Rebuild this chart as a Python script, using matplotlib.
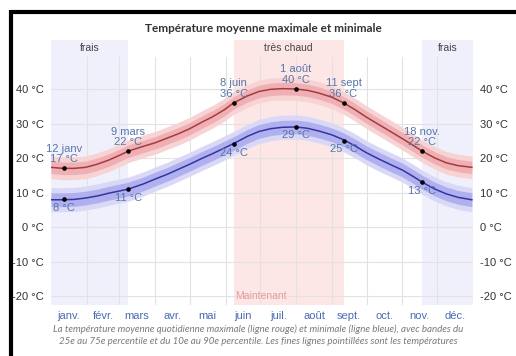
import matplotlib
matplotlib.use("Agg")
import matplotlib.pyplot as plt
from matplotlib.lines import Line2D
import numpy as np

# Day of year (0 = 1 January) for each sampled point of the curves
days = [0, 10, 20, 30, 40, 50, 60, 67, 80, 90, 100, 110, 120, 130, 140, 150, 158,
        170, 180, 190, 200, 212, 222, 232, 243, 253, 263, 273, 283, 293, 304, 314,
        321, 332, 342, 352, 364]

# Mean daily maximum / minimum (°C)
high = [17.3, 17.0, 17.0, 17.3, 18.2, 19.4, 20.9, 22.0, 23.4, 24.4, 25.7, 27.0, 28.5,
        30.3, 32.0, 34.0, 36.0, 38.0, 39.3, 39.9, 40.1, 40.0, 39.6, 38.8, 37.6, 36.0,
        34.0, 31.8, 29.8, 27.8, 25.6, 23.5, 22.0, 20.0, 18.6, 17.8, 17.3]
low = [7.9, 7.9, 8.0, 8.4, 9.0, 9.8, 10.5, 11.0, 12.5, 13.9, 15.2, 16.7, 18.2, 19.8,
       21.3, 22.9, 24.2, 26.3, 27.7, 28.5, 28.9, 29.0, 28.6, 27.8, 26.7, 25.3, 23.5,
       21.5, 19.8, 18.2, 16.5, 14.5, 13.0, 11.0, 9.6, 8.6, 7.9]

# Half-widths of the percentile bands (25–75 and 10–90), °C
high_inner = [1.8] * len(days)
high_outer = [3.3] * len(days)
low_inner = [2.0] * len(days)
low_outer = [3.5] * len(days)

# Highlighted points: (day, label, high, low)
key_days = [11, 67, 158, 212, 253, 321]
key_names = ["12 janv", "9 mars", "8 juin", "1 août", "11 sept", "18 nov."]
key_high = [17, 22, 36, 40, 36, 22]
key_low = [8, 11, 24, 29, 25, 13]

# Seasonal shading
cool_spans = [(0, 67), (321, 365)]
cool_label = "frais"
hot_span = (158, 253)
hot_label = "très chaud"
now_day = 158
now_label = "Maintenant"

month_starts = [0, 31, 59, 90, 120, 151, 181, 212, 243, 273, 304, 334, 365]
month_names = ["janv.", "févr.", "mars", "avr.", "mai", "juin", "juil.",
               "août", "sept.", "oct.", "nov.", "déc."]
yticks = [-20, -10, 0, 10, 20, 30, 40]

title = "Température moyenne maximale et minimale"
caption = ("La température moyenne quotidienne maximale (ligne rouge) et minimale (ligne bleue), avec bandes du\n"
           "25e au 75e percentile et du 10e au 90e percentile. Les fines lignes pointillées sont les températures")

W, H = 516, 356
fig = plt.figure(figsize=(W / 100, H / 100), dpi=100)
fig.patch.set_facecolor("white")

ax = fig.add_axes([51 / W, 1 - 305 / H, 422 / W, 265 / H])
ax.set_xlim(0, 365)
ax.set_ylim(-22.6, 54.2)
for s in ax.spines.values():
    s.set_visible(False)

# seasonal bands
for a, b in cool_spans:
    ax.axvspan(a, b, color="#f0f0fc", zorder=0, lw=0)
    ax.text((a + b) / 2, 52.0, cool_label, ha="center", va="center",
            fontsize=7.5, color="#444444", family="Liberation Sans")
ax.axvspan(hot_span[0], hot_span[1], color="#fde6e6", zorder=0, lw=0)
ax.text(sum(hot_span) / 2, 52.0, hot_label, ha="center", va="center",
        fontsize=7.5, color="#444444", family="Liberation Sans")

# grid
for y in yticks:
    ax.axhline(y, color="#e2e2e2", lw=0.8, zorder=1)
for m in month_starts[1:-1]:
    ax.plot([m, m], [-22.6, 49.3], color="#e2e2e2", lw=0.8, zorder=1)

d = np.array(days)
hi = np.array(high)
lo = np.array(low)
hin, hout = np.array(high_inner), np.array(high_outer)
lin, lout = np.array(low_inner), np.array(low_outer)

ax.fill_between(d, hi - hout, hi + hout, color="#f7d3d4", lw=0, zorder=2)
ax.fill_between(d, hi - hin, hi + hin, color="#eeb0b4", lw=0, zorder=3)
ax.fill_between(d, lo - lout, lo + lout, color="#d9d9f7", lw=0, zorder=2)
ax.fill_between(d, lo - lin, lo + lin, color="#b0b0ee", lw=0, zorder=3)
ax.plot(d, hi, color="#a83a3a", lw=1.1, zorder=4)
ax.plot(d, lo, color="#3434a6", lw=1.1, zorder=4)

lab_col = "#5876a8"
for day, name, h, l in zip(key_days, key_names, key_high, key_low):
    ax.plot([day, day], [h, l], ls="none", marker="o", ms=2.3, color="black", zorder=5)
    ax.annotate(f"{name}\n{h} °C", (day, h), xytext=(0, 3), textcoords="offset points",
                ha="center", va="bottom", fontsize=8, color=lab_col,
                linespacing=1.05, family="Liberation Sans", zorder=6)
    ax.annotate(f"{l} °C", (day, l), xytext=(0, -2.5), textcoords="offset points",
                ha="center", va="top", fontsize=8, color=lab_col,
                family="Liberation Sans", zorder=6)

ax.text(now_day + 1, -20, now_label, ha="left", va="center", fontsize=7.5,
        color="#e79c9c", family="Liberation Sans", zorder=6)

# axes ticks
mids = [(a + b) / 2 for a, b in zip(month_starts[:-1], month_starts[1:])]
ax.set_xticks(mids)
ax.set_xticklabels(month_names, fontsize=8, color="#4a6cb3", family="Liberation Sans")
ax.set_yticks(yticks)
ax.set_yticklabels([f"{t} °C" for t in yticks], fontsize=8, color="#333333",
                   family="Liberation Sans")
ax.tick_params(axis="both", length=0)
ax.tick_params(axis="x", pad=4)
ax.tick_params(axis="y", pad=5, labelright=True)

fig.text(263 / W, 1 - 29 / H, title, ha="center", va="center", fontsize=8.5,
         color="#333333", family="Lato", fontweight="bold")
fig.text(258 / W, 1 - 335 / H, caption, ha="center", va="center", fontsize=7.0,
         color="#7a7a7a", family="Lato", style="italic", linespacing=1.45)

# frame edges
fig.add_artist(Line2D([11 / W, 1], [1 - 12 / H, 1 - 12 / H], transform=fig.transFigure,
                      color="black", lw=3.0, solid_capstyle="butt"))
fig.add_artist(Line2D([11 / W, 11 / W], [0, 1 - 10 / H], transform=fig.transFigure,
                      color="black", lw=3.0, solid_capstyle="butt"))

fig.savefig("out.png", dpi=100, facecolor="white")
